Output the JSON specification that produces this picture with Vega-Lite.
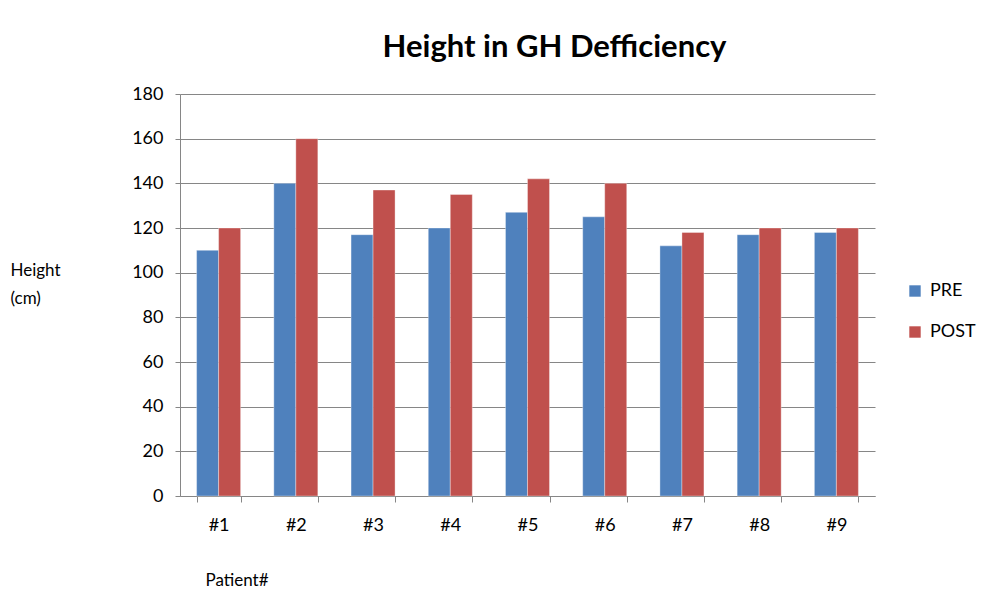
{
  "$schema": "https://vega.github.io/schema/vega-lite/v6.json",
  "width": 695,
  "height": 402,
  "autosize": {"type": "none"},
  "padding": {"left": 180, "top": 94, "right": 110, "bottom": 95},
  "background": "white",
  "title": {
    "text": "Height in GH Defficiency",
    "font": "Lato",
    "fontSize": 31,
    "fontWeight": "bold",
    "color": "#000000",
    "anchor": "middle",
    "dx": 27,
    "offset": 21
  },
  "data": {
    "values": [
      {"patient": "#1", "phase": "PRE", "height": 110},
      {"patient": "#1", "phase": "POST", "height": 120},
      {"patient": "#2", "phase": "PRE", "height": 140},
      {"patient": "#2", "phase": "POST", "height": 160},
      {"patient": "#3", "phase": "PRE", "height": 117},
      {"patient": "#3", "phase": "POST", "height": 137},
      {"patient": "#4", "phase": "PRE", "height": 120},
      {"patient": "#4", "phase": "POST", "height": 135},
      {"patient": "#5", "phase": "PRE", "height": 127},
      {"patient": "#5", "phase": "POST", "height": 142},
      {"patient": "#6", "phase": "PRE", "height": 125},
      {"patient": "#6", "phase": "POST", "height": 140},
      {"patient": "#7", "phase": "PRE", "height": 112},
      {"patient": "#7", "phase": "POST", "height": 118},
      {"patient": "#8", "phase": "PRE", "height": 117},
      {"patient": "#8", "phase": "POST", "height": 120},
      {"patient": "#9", "phase": "PRE", "height": 118},
      {"patient": "#9", "phase": "POST", "height": 120}
    ]
  },
  "mark": {"type": "bar", "stroke": "#ffffff", "strokeOpacity": 0.35, "strokeWidth": 1},
  "encoding": {
    "x": {
      "field": "patient",
      "type": "nominal",
      "sort": null,
      "scale": {"paddingInner": 0.43, "paddingOuter": 0.215},
      "axis": {
        "title": "Patient#",
        "titleFont": "Lato",
        "titleFontSize": 17,
        "titleFontWeight": "normal",
        "titleColor": "#000000",
        "titleAlign": "left",
        "titleBaseline": "middle",
        "titleAnchor": "start",
        "titleX": 25,
        "titleY": 84,
        "labelAngle": 0,
        "labelFont": "Lato",
        "labelFontSize": 18,
        "labelColor": "#000000",
        "labelPadding": 14,
        "tickBand": "extent",
        "tickSize": 6,
        "tickColor": "#868686",
        "domainColor": "#868686",
        "grid": false
      }
    },
    "y": {
      "field": "height",
      "type": "quantitative",
      "scale": {"domain": [0, 180]},
      "axis": {
        "values": [0, 20, 40, 60, 80, 100, 120, 140, 160, 180],
        "title": ["Height", "(cm)"],
        "titleFont": "Lato",
        "titleFontSize": 17,
        "titleFontWeight": "normal",
        "titleColor": "#000000",
        "titleAngle": 0,
        "titleAlign": "left",
        "titleBaseline": "top",
        "titleX": -170,
        "titleY": 168,
        "titleLineHeight": 28,
        "labelFont": "Lato",
        "labelFontSize": 18,
        "labelColor": "#000000",
        "labelPadding": 12,
        "tickSize": 5,
        "tickColor": "#868686",
        "domainColor": "#868686",
        "gridColor": "#868686",
        "gridWidth": 1
      }
    },
    "xOffset": {"field": "phase", "type": "nominal", "sort": ["PRE", "POST"], "scale": {"paddingInner": 0}},
    "color": {
      "field": "phase",
      "type": "nominal",
      "sort": ["PRE", "POST"],
      "scale": {"domain": ["PRE", "POST"], "range": ["#4F81BD", "#C0504D"]},
      "legend": {
        "title": null,
        "orient": "none",
        "legendX": 726,
        "legendY": 188,
        "symbolType": "square",
        "symbolSize": 130,
        "symbolStrokeWidth": 0,
        "labelFont": "Lato",
        "labelFontSize": 18,
        "labelColor": "#000000",
        "rowPadding": 23,
        "labelOffset": 6
      }
    }
  },
  "config": {
    "view": {"stroke": null}
  }
}
